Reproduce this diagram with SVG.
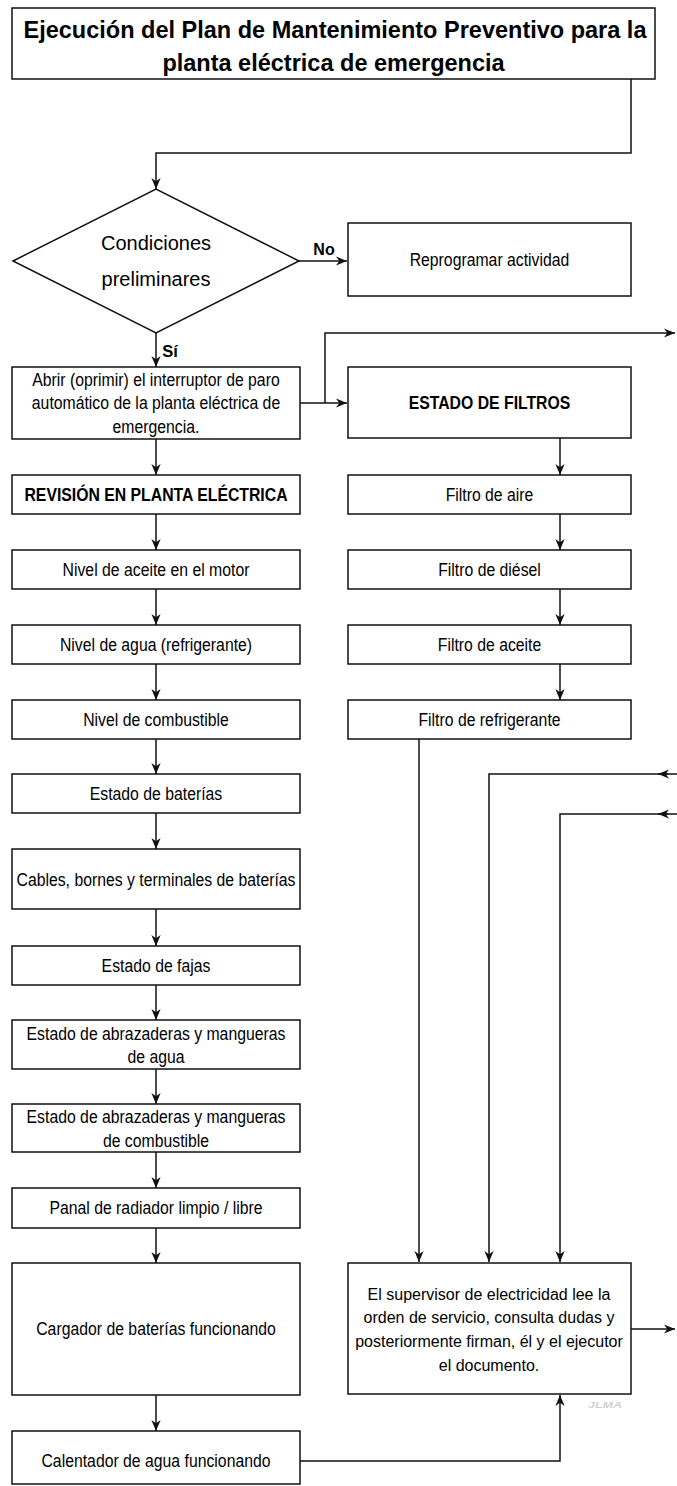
<svg xmlns="http://www.w3.org/2000/svg" width="677" height="1486" viewBox="0 0 677 1486">
  <style>
    .box { fill: #fff; stroke: #111; stroke-width: 1.5; }
    .ln { fill: none; stroke: #111; stroke-width: 1.5; }
    .t { font-family: "Liberation Sans", Arial, sans-serif; fill: #000; text-anchor: middle; }
    .n { font-size: 18.5px; }
    .b { font-weight: bold; }
    .r16 { font-size: 16px; }
  </style>
  <defs>
    <marker id="arr" viewBox="0 0 10 10" refX="10" refY="5" markerWidth="11" markerHeight="11" markerUnits="userSpaceOnUse" orient="auto">
      <path d="M0,0.8 L10,5 L0,9.2 L3,5 z" fill="#111"/>
    </marker>
  </defs>
  <rect width="677" height="1486" fill="#fff"/>

  <!-- connectors -->
  <g id="connectors">
    <path class="ln" d="M631,79 V153 H156 V189" marker-end="url(#arr)"/>
    <path class="ln" d="M299,261 H347" marker-end="url(#arr)"/>
    <path class="ln" d="M156,333 V367" marker-end="url(#arr)"/>
    <path class="ln" d="M300,403 H347" marker-end="url(#arr)"/>
    <path class="ln" d="M325,403 V333 H675" marker-end="url(#arr)"/>
    <!-- filters column -->
    <path class="ln" d="M560,438 V475" marker-end="url(#arr)"/>
    <path class="ln" d="M560,514 V550" marker-end="url(#arr)"/>
    <path class="ln" d="M560,589 V625" marker-end="url(#arr)"/>
    <path class="ln" d="M560,664 V700" marker-end="url(#arr)"/>
    <path class="ln" d="M419,739 V1262" marker-end="url(#arr)"/>
    <!-- incoming lines from the right edge -->
    <path class="ln" d="M677,774 H489 V1262" marker-end="url(#arr)"/>
    <path class="ln" d="M668,774 H658" marker-end="url(#arr)"/>
    <path class="ln" d="M677,814 H560 V1262" marker-end="url(#arr)"/>
    <path class="ln" d="M668,814 H658" marker-end="url(#arr)"/>
    <path class="ln" d="M631,1329 H675" marker-end="url(#arr)"/>
    <path class="ln" d="M300,1461 H560 V1395" marker-end="url(#arr)"/>
    <!-- inspection column -->
    <path class="ln" d="M156,439 V475" marker-end="url(#arr)"/>
    <path class="ln" d="M156,514 V550" marker-end="url(#arr)"/>
    <path class="ln" d="M156,589 V625" marker-end="url(#arr)"/>
    <path class="ln" d="M156,664 V700" marker-end="url(#arr)"/>
    <path class="ln" d="M156,739 V774" marker-end="url(#arr)"/>
    <path class="ln" d="M156,813 V849" marker-end="url(#arr)"/>
    <path class="ln" d="M156,909 V946" marker-end="url(#arr)"/>
    <path class="ln" d="M156,985 V1020" marker-end="url(#arr)"/>
    <path class="ln" d="M156,1069 V1104" marker-end="url(#arr)"/>
    <path class="ln" d="M156,1152 V1188" marker-end="url(#arr)"/>
    <path class="ln" d="M156,1228 V1263" marker-end="url(#arr)"/>
    <path class="ln" d="M156,1395 V1431" marker-end="url(#arr)"/>
    <text class="t b" x="324" y="255" font-size="16">No</text>
    <text class="t b" x="170" y="357" font-size="16.5">Sí</text>
  </g>

  <g id="title">
    <rect class="box" x="12" y="8" width="643" height="71"/>
    <text class="t b" x="335" y="38" font-size="23.5">Ejecución del Plan de Mantenimiento Preventivo para la</text>
    <text class="t b" x="333.5" y="71" font-size="23.5">planta eléctrica de emergencia</text>
  </g>

  <g id="condiciones">
    <polygon class="box" points="13,261 156,189 299,261 156,333"/>
    <text class="t" x="156" y="250" font-size="20">Condiciones</text>
    <text class="t" x="156" y="286" font-size="20">preliminares</text>
  </g>

  <g id="reprogramar">
    <rect class="box" x="348" y="223" width="283" height="73"/>
    <text class="t n" transform="translate(489.5 266) scale(.854 1)">Reprogramar actividad</text>
  </g>

  <g id="abrir">
    <rect class="box" x="12" y="367" width="288" height="72"/>
    <text class="t n" transform="translate(156 386) scale(.854 1)">Abrir (oprimir) el interruptor de paro</text>
    <text class="t n" transform="translate(156 409) scale(.854 1)">automático de la planta eléctrica de</text>
    <text class="t n" transform="translate(156 433) scale(.854 1)">emergencia.</text>
  </g>

  <g id="estado-filtros">
    <rect class="box" x="348" y="367" width="283" height="71"/>
    <text class="t n b" transform="translate(489.5 409) scale(.854 1)">ESTADO DE FILTROS</text>
  </g>

  <g id="revision">
    <rect class="box" x="12" y="475" width="288" height="39"/>
    <text class="t n b" transform="translate(156 501) scale(.854 1)">REVISIÓN EN PLANTA ELÉCTRICA</text>
  </g>

  <g id="nivel-aceite">
    <rect class="box" x="12" y="550" width="288" height="39"/>
    <text class="t n" transform="translate(156 576) scale(.854 1)">Nivel de aceite en el motor</text>
  </g>

  <g id="nivel-agua">
    <rect class="box" x="12" y="625" width="288" height="39"/>
    <text class="t n" transform="translate(156 651) scale(.854 1)">Nivel de agua (refrigerante)</text>
  </g>

  <g id="nivel-combustible">
    <rect class="box" x="12" y="700" width="288" height="39"/>
    <text class="t n" transform="translate(156 726) scale(.854 1)">Nivel de combustible</text>
  </g>

  <g id="filtro-aire">
    <rect class="box" x="348" y="475" width="283" height="39"/>
    <text class="t n" transform="translate(489.5 501) scale(.854 1)">Filtro de aire</text>
  </g>

  <g id="filtro-diesel">
    <rect class="box" x="348" y="550" width="283" height="39"/>
    <text class="t n" transform="translate(489.5 576) scale(.854 1)">Filtro de diésel</text>
  </g>

  <g id="filtro-aceite">
    <rect class="box" x="348" y="625" width="283" height="39"/>
    <text class="t n" transform="translate(489.5 651) scale(.854 1)">Filtro de aceite</text>
  </g>

  <g id="filtro-refrigerante">
    <rect class="box" x="348" y="700" width="283" height="39"/>
    <text class="t n" transform="translate(489.5 726) scale(.854 1)">Filtro de refrigerante</text>
  </g>

  <g id="baterias">
    <rect class="box" x="12" y="774" width="288" height="39"/>
    <text class="t n" transform="translate(156 800) scale(.854 1)">Estado de baterías</text>
  </g>

  <g id="cables">
    <rect class="box" x="12" y="849" width="288" height="60"/>
    <text class="t n" transform="translate(156 886) scale(.854 1)">Cables, bornes y terminales de baterías</text>
  </g>

  <g id="fajas">
    <rect class="box" x="12" y="946" width="288" height="39"/>
    <text class="t n" transform="translate(156 972) scale(.854 1)">Estado de fajas</text>
  </g>

  <g id="abrazaderas-agua">
    <rect class="box" x="12" y="1020" width="288" height="49"/>
    <text class="t n" transform="translate(156 1040) scale(.854 1)">Estado de abrazaderas y mangueras</text>
    <text class="t n" transform="translate(156 1063) scale(.854 1)">de agua</text>
  </g>

  <g id="abrazaderas-combustible">
    <rect class="box" x="12" y="1104" width="288" height="48"/>
    <text class="t n" transform="translate(156 1123) scale(.854 1)">Estado de abrazaderas y mangueras</text>
    <text class="t n" transform="translate(156 1147) scale(.854 1)">de combustible</text>
  </g>

  <g id="panal">
    <rect class="box" x="12" y="1188" width="288" height="40"/>
    <text class="t n" transform="translate(156 1214) scale(.854 1)">Panal de radiador limpio / libre</text>
  </g>

  <g id="cargador">
    <rect class="box" x="12" y="1263" width="288" height="132"/>
    <text class="t n" transform="translate(156 1335) scale(.854 1)">Cargador de baterías funcionando</text>
  </g>

  <g id="calentador">
    <rect class="box" x="12" y="1431" width="288" height="53"/>
    <text class="t n" transform="translate(156 1467) scale(.854 1)">Calentador de agua funcionando</text>
  </g>

  <g id="supervisor">
    <rect class="box" x="348" y="1263" width="283" height="131"/>
    <text class="t r16" x="489" y="1300">El supervisor de electricidad lee la</text>
    <text class="t r16" x="489" y="1323">orden de servicio, consulta dudas y</text>
    <text class="t r16" x="489" y="1347">posteriormente firman, él y el ejecutor</text>
    <text class="t r16" x="489" y="1371">el documento.</text>
  </g>

  <text x="588" y="1408" font-family="Liberation Sans, Arial, sans-serif" font-size="9" font-weight="bold" font-style="italic" fill="#cfcfcf" textLength="34" lengthAdjust="spacingAndGlyphs">JLMA</text>
</svg>
